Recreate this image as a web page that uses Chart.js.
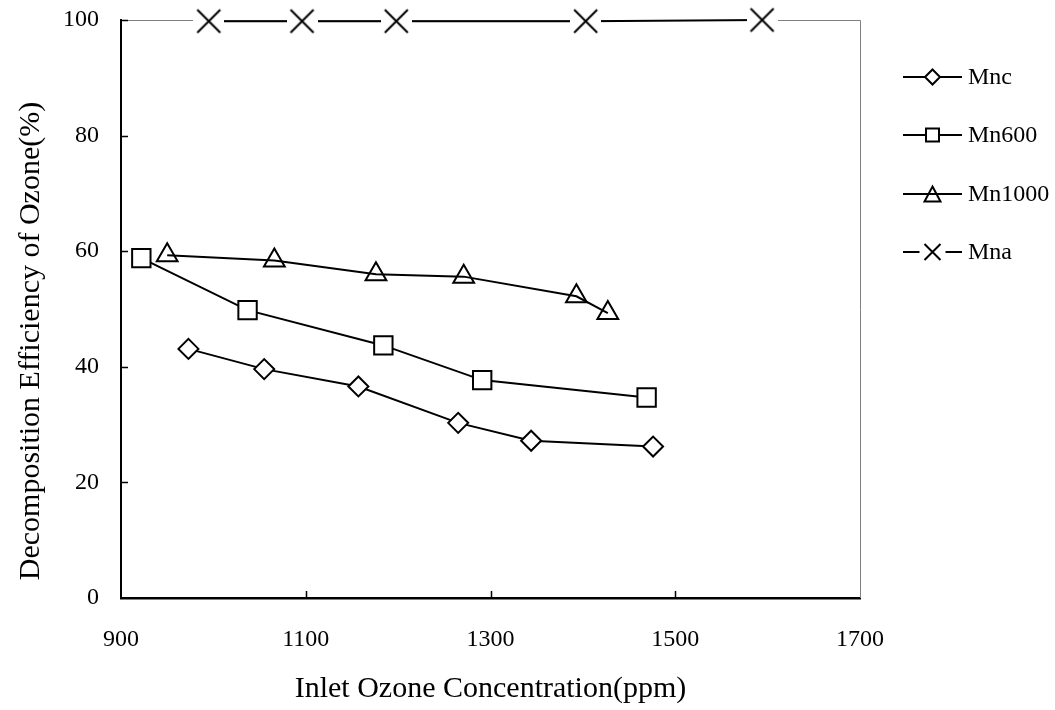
<!DOCTYPE html>
<html>
<head>
<meta charset="utf-8">
<script src="https://cdn.jsdelivr.net/npm/chart.js@4/dist/chart.umd.min.js"></script>
<style>
html,body{margin:0;padding:0;background:#fff;}
#wrap{width:1055px;height:710px;position:relative;}
</style>
</head>
<body>
<div id="wrap"><canvas id="c" width="1055" height="710"></canvas></div>
<script>
// ---- data ----
const seriesNames = ['Mnc', 'Mn600', 'Mn1000', 'Mna'];
const mncX = [973, 1055, 1157, 1265, 1344, 1476];
const mncY = [43.1, 39.6, 36.6, 30.3, 27.2, 26.2];
const mn600X = [922, 1037, 1184, 1291, 1469];
const mn600Y = [58.8, 49.8, 43.7, 37.7, 34.7];
const mn1000X = [950, 1066, 1176, 1271, 1393, 1427];
const mn1000Y = [59.3, 58.4, 56.0, 55.6, 52.2, 49.3];
const mnaX = [995, 1096, 1198, 1403, 1594];
const mnaY = [99.8, 99.8, 99.8, 99.8, 100];
const xTickValues = [900, 1100, 1300, 1500, 1700];
const yTickValues = [0, 20, 40, 60, 80, 100];
const xTitle = 'Inlet Ozone Concentration(ppm)';
const yTitle = 'Decomposition Efficiency of Ozone(%)';

const FONT = '"Liberation Serif", "Times New Roman", serif';

function pts(xs, ys) { return xs.map((x, i) => ({x: x, y: ys[i]})); }

// cross marker with white halo (line gap like reference)
function makeCross(arm, pad, lw) {
  const c = document.createElement('canvas');
  const w = Math.ceil(2 * (arm + pad));
  const h = Math.ceil(2 * arm + 4);
  c.width = w; c.height = h;
  const g = c.getContext('2d');
  g.fillStyle = '#fff';
  g.fillRect(0, 0, w, h);
  g.strokeStyle = '#000';
  g.lineWidth = lw;
  const cx = w / 2, cy = h / 2;
  g.beginPath();
  g.moveTo(cx - arm, cy - arm); g.lineTo(cx + arm, cy + arm);
  g.moveTo(cx + arm, cy - arm); g.lineTo(cx - arm, cy + arm);
  g.stroke();
  return c;
}
const crossImg = makeCross(11.5, 4, 2);

const datasets = [
  {label: seriesNames[0], data: pts(mncX, mncY), pointStyle: 'rectRot', pointRadius: 10, pointBackgroundColor: '#fff'},
  {label: seriesNames[1], data: pts(mn600X, mn600Y), pointStyle: 'rect', pointRadius: 13, pointBackgroundColor: '#fff'},
  {label: seriesNames[2], data: pts(mn1000X, mn1000Y), pointStyle: 'triangle', pointRadius: 12, pointBackgroundColor: 'rgba(0,0,0,0)'},
  {label: seriesNames[3], data: pts(mnaX, mnaY), pointStyle: crossImg, pointRadius: 12, pointBackgroundColor: '#fff'}
].map(d => Object.assign({
  borderColor: '#000', borderWidth: 2, pointBorderColor: '#000', pointBorderWidth: 2,
  tension: 0, clip: false, fill: false, showLine: true
}, d));

// ---- plugin: frame, inward ticks, y title, legend ----
const decor = {
  id: 'decor',
  beforeDatasetsDraw(chart) {
    const {ctx, chartArea: a, scales: {x, y}} = chart;
    ctx.save();
    ctx.strokeStyle = '#808080';
    ctx.lineWidth = 1;
    ctx.beginPath();
    ctx.moveTo(a.left, a.top + 0.5);
    ctx.lineTo(a.right + 0.5, a.top + 0.5);
    ctx.lineTo(a.right + 0.5, a.bottom);
    ctx.stroke();
    ctx.strokeStyle = '#000';
    ctx.lineWidth = 1.5;
    ctx.beginPath();
    yTickValues.forEach(v => {
      if (v === yTickValues[0]) return;
      const py = Math.round(y.getPixelForValue(v)) + 0.5;
      ctx.moveTo(a.left, py); ctx.lineTo(a.left + 7, py);
    });
    xTickValues.forEach((v, i) => {
      if (i === 0 || i === xTickValues.length - 1) return;
      const px = Math.round(x.getPixelForValue(v)) + 0.5;
      ctx.moveTo(px, a.bottom); ctx.lineTo(px, a.bottom - 7);
    });
    ctx.stroke();
    // y axis title
    ctx.fillStyle = '#000';
    ctx.font = '30px ' + FONT;
    ctx.textAlign = 'center';
    ctx.textBaseline = 'middle';
    ctx.translate(31, 341);
    ctx.rotate(-Math.PI / 2);
    ctx.fillText(yTitle, 0, 0);
    ctx.restore();
  },
  afterDraw(chart) {
    const ctx = chart.ctx;
    const x0 = 903, x1 = 962, cx = 932.5, tx = 968;
    const ys = [77, 135, 194, 252];
    ctx.save();
    ctx.strokeStyle = '#000';
    ctx.fillStyle = '#000';
    ctx.lineWidth = 2;
    chart.data.datasets.forEach((ds, i) => {
      const cy = ys[i];
      ctx.beginPath();
      if (i === 3) {
        ctx.moveTo(x0, cy); ctx.lineTo(cx - 13, cy);
        ctx.moveTo(cx + 13, cy); ctx.lineTo(x1, cy);
      } else {
        ctx.moveTo(x0, cy); ctx.lineTo(x1, cy);
      }
      ctx.stroke();
      ctx.beginPath();
      if (i === 0) {
        const r = 7.5;
        ctx.moveTo(cx, cy - r); ctx.lineTo(cx + r, cy); ctx.lineTo(cx, cy + r); ctx.lineTo(cx - r, cy); ctx.closePath();
        ctx.fillStyle = '#fff'; ctx.fill(); ctx.stroke();
      } else if (i === 1) {
        const s = 6.5;
        ctx.rect(cx - s, cy - s, 2 * s, 2 * s);
        ctx.fillStyle = '#fff'; ctx.fill(); ctx.stroke();
      } else if (i === 2) {
        const w = 8, h = 7.5;
        ctx.moveTo(cx, cy - h); ctx.lineTo(cx + w, cy + h); ctx.lineTo(cx - w, cy + h); ctx.closePath();
        ctx.stroke();
      } else {
        const r = 8;
        ctx.moveTo(cx - r, cy - r); ctx.lineTo(cx + r, cy + r);
        ctx.moveTo(cx + r, cy - r); ctx.lineTo(cx - r, cy + r);
        ctx.stroke();
      }
      ctx.fillStyle = '#000';
      ctx.font = '24px ' + FONT;
      ctx.textAlign = 'left';
      ctx.textBaseline = 'middle';
      ctx.fillText(ds.label, tx, cy + 1);
    });
    ctx.restore();
  }
};

new Chart(document.getElementById('c'), {
  type: 'scatter',
  data: {datasets: datasets},
  plugins: [decor],
  options: {
    responsive: false,
    animation: false,
    events: [],
    layout: {padding: {top: 20, right: 195, bottom: 0, left: 0}},
    plugins: {legend: {display: false}, tooltip: {enabled: false}},
    scales: {
      x: {
        type: 'linear',
        min: xTickValues[0],
        max: xTickValues[xTickValues.length - 1],
        afterBuildTicks: s => { s.ticks = xTickValues.map(v => ({value: v})); },
        afterFit: s => { s.height = 112; s.paddingLeft = 0; s.paddingRight = 0; },
        grid: {display: false, drawTicks: false},
        border: {display: true, color: '#000', width: 2.5},
        ticks: {color: '#000', font: {family: FONT, size: 24}, padding: 27, maxRotation: 0, autoSkip: false,
                callback: v => String(v)},
        title: {display: true, text: xTitle, color: '#000', font: {family: FONT, size: 30}, padding: {top: 0, bottom: 3}}
      },
      y: {
        type: 'linear',
        min: yTickValues[0],
        max: yTickValues[yTickValues.length - 1],
        afterBuildTicks: s => { s.ticks = yTickValues.map(v => ({value: v})); },
        afterFit: s => { s.width = 121; s.paddingTop = 0; s.paddingBottom = 0; },
        grid: {display: false, drawTicks: false},
        border: {display: true, color: '#000', width: 2},
        ticks: {color: '#000', font: {family: FONT, size: 24}, padding: 22, autoSkip: false,
                callback: v => String(v)}
      }
    }
  }
});
</script>
</body>
</html>
